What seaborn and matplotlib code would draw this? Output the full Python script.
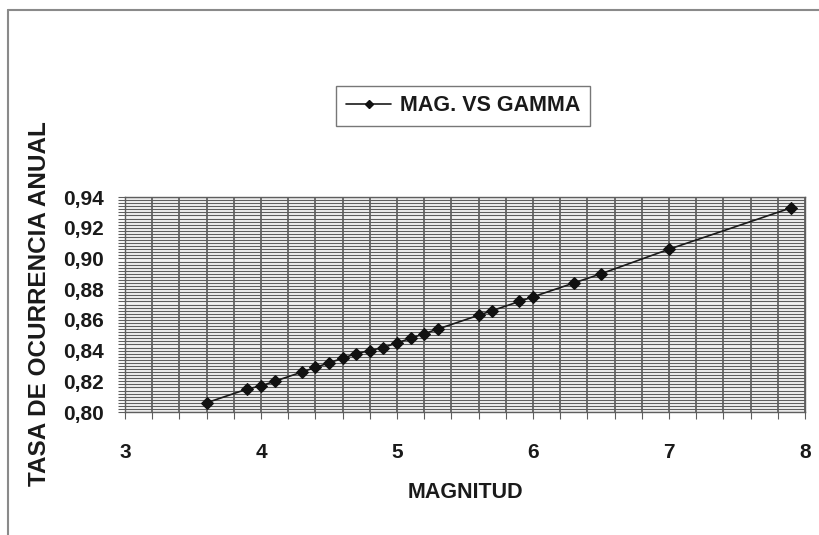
import matplotlib
matplotlib.use("Agg")
import matplotlib.pyplot as plt
from matplotlib.ticker import MultipleLocator, FuncFormatter
from matplotlib.lines import Line2D
import seaborn as sns
import pandas as pd

# Magnitude vs annual occurrence rate (gamma)
magnitud = [3.6, 3.9, 4.0, 4.1, 4.3, 4.4, 4.5, 4.6, 4.7, 4.8, 4.9, 5.0,
            5.1, 5.2, 5.3, 5.6, 5.7, 5.9, 6.0, 6.3, 6.5, 7.0, 7.9]
gamma = [0.806, 0.815, 0.817, 0.820, 0.826, 0.829, 0.832, 0.835, 0.838,
         0.840, 0.842, 0.845, 0.848, 0.851, 0.854, 0.863, 0.866, 0.872,
         0.875, 0.884, 0.890, 0.906, 0.933]
serie = "MAG. VS GAMMA"
x_ticks = [3, 4, 5, 6, 7, 8]
y_ticks = [0.80, 0.82, 0.84, 0.86, 0.88, 0.90, 0.92, 0.94]

df = pd.DataFrame({"MAGNITUD": magnitud, "GAMMA": gamma})

sns.set_theme(style="white")
plt.rcParams["font.family"] = ["Liberation Sans", "DejaVu Sans"]
plt.rcParams["font.weight"] = "bold"

W, H = 820, 535
fig = plt.figure(figsize=(W / 100, H / 100), dpi=100)
fig.patch.set_facecolor("white")

ax = fig.add_axes([125 / W, 1 - 412 / H, (805 - 125) / W, (412 - 197) / H])
ax.set_facecolor("#f2f2f2")

grid_col = "#5e5e5e"
ax.set_xlim(3, 8)
ax.set_ylim(0.80, 0.94)
ax.set_xticks(x_ticks)
ax.set_yticks(y_ticks)
ax.xaxis.set_minor_locator(MultipleLocator(0.2))
ax.yaxis.set_minor_locator(MultipleLocator(0.002))
ax.grid(which="both", axis="x", color="#4a4a4a", linewidth=1.1)
ax.grid(which="both", axis="y", color=grid_col, linewidth=0.8)
ax.set_axisbelow(True)

sns.lineplot(data=df, x="MAGNITUD", y="GAMMA", ax=ax, color="#1a1a1a",
             linewidth=1.2, marker="D", markersize=6,
             markeredgecolor="#111111", markerfacecolor="#111111",
             zorder=3, legend=False)

ax.yaxis.set_major_formatter(FuncFormatter(lambda v, p: f"{v:.2f}".replace(".", ",")))
ax.tick_params(axis="y", which="both", direction="out", length=5, width=0.8,
               color=grid_col, left=True, pad=10, labelsize=15,
               labelcolor="#1a1a1a")
ax.tick_params(axis="x", which="both", direction="out", length=5, width=0.8,
               color=grid_col, bottom=True, pad=17, labelsize=15,
               labelcolor="#1a1a1a")
for lab in ax.get_xticklabels() + ax.get_yticklabels():
    lab.set_fontweight("bold")

for s in ax.spines.values():
    s.set_visible(True)
    s.set_color(grid_col)
    s.set_linewidth(1.0)

ax.set_xlabel("")
ax.set_ylabel("")
fig.text(465 / W, 1 - 492 / H, "MAGNITUD", ha="center", va="center",
         fontsize=15.5, fontweight="bold", color="#1a1a1a")
fig.text(40 / W, 1 - 304 / H, "TASA DE OCURRENCIA ANUAL", ha="center",
         va="center", rotation=90, fontsize=17.5, fontweight="bold",
         color="#1a1a1a")

handle = Line2D([], [], color="#1a1a1a", linewidth=1.2, marker="D",
                markersize=4.5, markerfacecolor="#111111",
                markeredgecolor="#111111")
leg = ax.legend([handle], [serie], loc="center",
                bbox_to_anchor=(463 / W, 1 - 106 / H),
                bbox_transform=fig.transFigure, frameon=True, fancybox=False,
                shadow=False, handlelength=2.1, handletextpad=0.4,
                borderpad=0.45, prop={"size": 15.5, "weight": "bold"})
leg.get_frame().set_edgecolor("#555555")
leg.get_frame().set_linewidth(1.0)
for t in leg.get_texts():
    t.set_color("#1a1a1a")

# Outer chart frame (left and top edges)
fig.add_artist(Line2D([8 / W, 8 / W], [0, 1 - 10 / H], transform=fig.transFigure,
                      color="#8a8a8a", linewidth=1.5))
fig.add_artist(Line2D([8 / W, 1], [1 - 10 / H, 1 - 10 / H],
                      transform=fig.transFigure, color="#8a8a8a", linewidth=1.5))

fig.savefig("out.png", dpi=100, facecolor="white")
